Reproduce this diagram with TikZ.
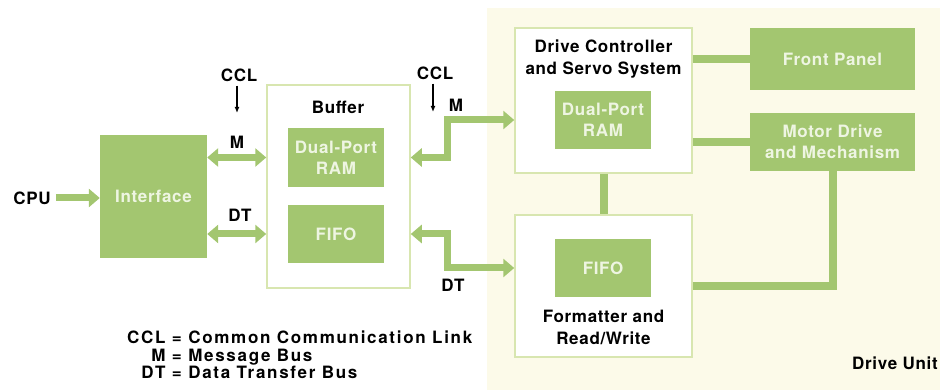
\documentclass[tikz,border=0pt]{standalone}
\usepackage{fontspec}
\setmainfont{TeX Gyre Heros}[LetterSpace=4.0]
\usetikzlibrary{arrows.meta}
\definecolor{boxgreen}{RGB}{163,198,112}
\definecolor{edgegreen}{RGB}{216,230,176}
\definecolor{unitcream}{RGB}{252,250,233}
\definecolor{paletext}{RGB}{238,245,226}
\begin{document}
\begin{tikzpicture}[x=1pt, y=-1pt,
    greenbox/.style={fill=boxgreen, text=paletext, align=center, inner sep=0pt,
      font=\bfseries\fontsize{17}{21}\selectfont},
    framebox/.style={draw=edgegreen, line width=1.5pt, fill=white, inner sep=0pt},
    tag/.style={font=\bfseries\fontsize{17}{22}\selectfont, align=center, inner sep=0pt},
    bus/.style={draw=boxgreen, line width=7pt,
      {Triangle[length=11pt,width=18pt]}-{Triangle[length=11pt,width=18pt]}},
    feed/.style={draw=boxgreen, line width=7pt, -{Triangle[length=11pt,width=18pt]}},
    link/.style={draw=boxgreen, line width=8pt},
    ccl/.style={draw=black, line width=1.2pt, -{Latex[length=6pt,width=5pt]}}]
    \useasboundingbox (0,0) rectangle (940,390);
    % Drive unit area
    \fill[unitcream] (487,8) rectangle (940,390);
    % Nodes
    \node[greenbox, minimum width=107pt, minimum height=123pt] (iface) at (153.5,196.5) {Interface};
    \node[framebox, minimum width=143pt, minimum height=203pt] (buf) at (338.5,186.5) {};
    \node[tag] (buftag) at (338,107) {Buffer};
    \node[greenbox, minimum width=96pt, minimum height=59pt] (bram) at (336,157.5) {Dual-Port\\RAM};
    \node[greenbox, minimum width=96pt, minimum height=58pt] (bfifo) at (336,234) {FIFO};
    \node[framebox, minimum width=177pt, minimum height=145pt] (ctrl) at (603.5,100.5) {};
    \node[tag] (ctrltag) at (603.5,59) {Drive Controller\\and Servo System};
    \node[greenbox, minimum width=96pt, minimum height=58pt] (cram) at (603,120) {Dual-Port\\RAM};
    \node[framebox, minimum width=177pt, minimum height=142pt] (fmt) at (603.5,286) {};
    \node[tag] (fmttag) at (603.5,327) {Formatter and\\Read/Write};
    \node[greenbox, minimum width=96pt, minimum height=58pt] (ffifo) at (603,268) {FIFO};
    \node[greenbox, minimum width=165pt, minimum height=62pt] (panel) at (832.5,59) {Front Panel};
    \node[greenbox, minimum width=165pt, minimum height=58pt] (motor) at (832.5,142) {Motor Drive\\and Mechanism};
    \node[tag] (cpu) at (32,198) {CPU};
    \node[tag] (ccla) at (239,75) {CCL};
    \node[tag] (cclb) at (435,73) {CCL};
    \node[tag] (ma) at (237,142) {M};
    \node[tag] (mb) at (456,105) {M};
    \node[tag] (dta) at (240,215) {DT};
    \node[tag] (dtb) at (453,285) {DT};
    \node[tag, anchor=east] (unit) at (938,363) {Drive Unit};
    \node[tag, anchor=north west] (legend) at (127,331) {%
      \fontsize{17}{17}\selectfont\addfontfeature{LetterSpace=10.0}%
      \begin{tabular}{@{}r@{\ = }l@{}}
        CCL & Common Communication Link\\
        M & Message Bus\\
        DT & Data Transfer Bus
      \end{tabular}};
    \coordinate (cclaend) at (237,113);
    \coordinate (cclbend) at (433,112);
    % Edges
    \draw[feed] (cpu.east) ++(5,0) -- (iface.west |- cpu);
    \draw[bus] (iface.east |- bram) -- (buf.west |- bram);
    \draw[bus] (iface.east |- bfifo) -- (buf.west |- bfifo);
    \draw[bus] (buf.east |- bram) -- ++(37,0) |- (ctrl.west |- cram);
    \draw[bus] (buf.east |- bfifo) -- ++(37,0) |- (fmt.west |- ffifo);
    \draw[link] (ctrl.south) -- (fmt.north);
    \draw[link] (ctrl.east |- panel) -- (panel.west);
    \draw[link] (ctrl.east |- motor) -- (motor.west);
    \draw[link] (fmt.east) -| (motor.south);
    \draw[ccl] (ccla.south) ++(-2,4) -- (cclaend);
    \draw[ccl] (cclb.south) ++(-2,4) -- (cclbend);
\end{tikzpicture}
\end{document}
